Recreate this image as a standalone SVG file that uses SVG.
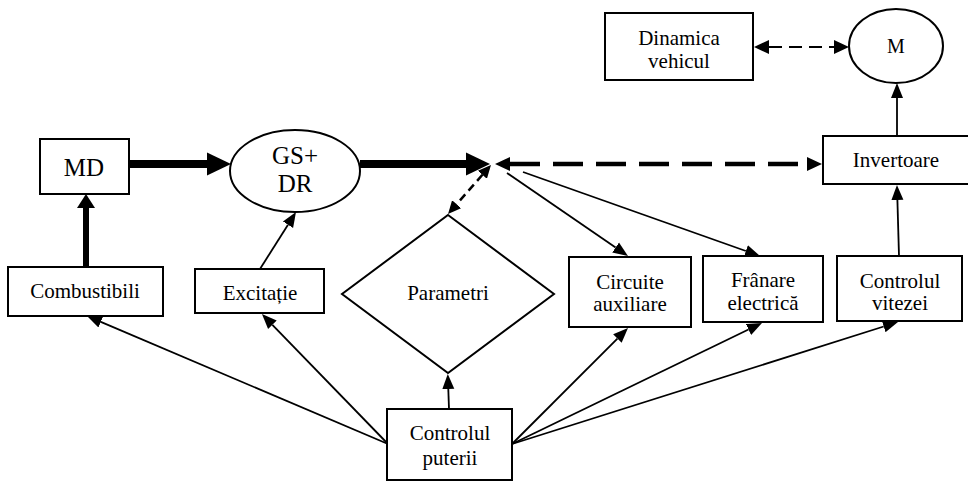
<svg xmlns="http://www.w3.org/2000/svg" width="968" height="482" viewBox="0 0 968 482">
<style>
.box{fill:#fff;stroke:#000;stroke-width:2}
text{font-family:'Liberation Serif','Tinos','Times New Roman','DejaVu Serif',serif;font-size:21px;fill:#000;text-anchor:middle}
.big{font-size:25px}
.c{fill:none;stroke:#000;stroke-width:1.8}
.thick{stroke-width:8}
.thickv{stroke-width:6}
.dthick{stroke-width:4.5;stroke-dasharray:30 13}
.dthin{stroke-width:2;stroke-dasharray:13 7}
.ddiag{stroke-width:2.5;stroke-dasharray:8 5}
</style>
<defs>
<marker id="a" markerUnits="userSpaceOnUse" markerWidth="16" markerHeight="14" refX="0" refY="6" orient="auto-start-reverse" viewBox="0 0 16 12"><path d="M0,0 L15,6 L0,12 z" fill="#000"/></marker>
<marker id="ad" markerUnits="userSpaceOnUse" markerWidth="16" markerHeight="14" refX="0" refY="7" orient="auto-start-reverse" viewBox="0 0 16 14"><path d="M0,0 L15,7 L0,14 z" fill="#000"/></marker>
<marker id="ag" markerUnits="userSpaceOnUse" markerWidth="13" markerHeight="12" refX="0" refY="6" orient="auto-start-reverse" viewBox="0 0 13 12"><path d="M0,0 L13,6 L0,12 z" fill="#000"/></marker>
<marker id="at" markerUnits="userSpaceOnUse" markerWidth="25" markerHeight="24" refX="0" refY="11.5" orient="auto" viewBox="0 0 25 23"><path d="M0,0 L24,11.5 L0,23 z" fill="#000"/></marker>
<marker id="av" markerUnits="userSpaceOnUse" markerWidth="15" markerHeight="19" refX="0" refY="9" orient="auto" viewBox="0 0 15 18"><path d="M0,0 L14,9 L0,18 z" fill="#000"/></marker>
</defs>

<g id="connectors">
<line class="c thick" x1="129" y1="164" x2="207" y2="164" marker-end="url(#at)"/>
<line class="c thick" x1="360" y1="164" x2="466" y2="164" marker-end="url(#at)"/>
<line class="c thickv" x1="86" y1="267" x2="86" y2="208" marker-end="url(#av)"/>
<line class="c" x1="260" y1="269" x2="288" y2="224.7" marker-end="url(#a)"/>
<line class="c dthick" x1="510" y1="164" x2="807" y2="164" marker-start="url(#ad)" marker-end="url(#ad)"/>
<line class="c ddiag" x1="482.4" y1="174.8" x2="456.6" y2="204.2" marker-start="url(#ag)" marker-end="url(#ag)"/>
<line class="c" x1="507" y1="173" x2="615.6" y2="247.5" marker-end="url(#a)"/>
<line class="c" x1="523" y1="172" x2="745.9" y2="251" marker-end="url(#a)"/>
<line class="c" x1="897" y1="136" x2="897" y2="98" marker-end="url(#a)"/>
<line class="c" x1="899" y1="256" x2="897.4" y2="200" marker-end="url(#a)"/>
<line class="c dthin" x1="769" y1="47" x2="834" y2="47" marker-start="url(#ad)" marker-end="url(#ad)"/>
<line class="c" x1="388" y1="444" x2="100.8" y2="321.9" marker-end="url(#a)"/>
<line class="c" x1="388" y1="444" x2="272.4" y2="324.8" marker-end="url(#a)"/>
<line class="c" x1="449" y1="409" x2="448.3" y2="389" marker-end="url(#a)"/>
<line class="c" x1="512" y1="444" x2="617.4" y2="338.6" marker-end="url(#a)"/>
<line class="c" x1="512" y1="444" x2="748.5" y2="329.5" marker-end="url(#a)"/>
<line class="c" x1="512" y1="444" x2="883.7" y2="326.5" marker-end="url(#a)"/>
</g>

<g id="md"><rect class="box" x="40" y="139" width="89" height="55"/><text class="big" x="84" y="176">MD</text></g>
<g id="gsdr"><ellipse class="box" cx="295" cy="171" rx="65" ry="41"/><text class="big" x="295" y="164">GS+</text><text class="big" x="295" y="192">DR</text></g>
<g id="combustibili"><rect class="box" x="8" y="267" width="155" height="49"/><text x="85" y="298">Combustibili</text></g>
<g id="excitatie"><rect class="box" x="195" y="269" width="129" height="44"/><text x="260" y="300">Excitație</text></g>
<g id="parametri"><polygon class="box" points="448,215 554,294 448,373 342,294"/><text x="448" y="300">Parametri</text></g>
<g id="circuite"><rect class="box" x="569" y="257" width="122" height="70"/><text x="630" y="289">Circuite</text><text x="630" y="311">auxiliare</text></g>
<g id="franare"><rect class="box" x="703" y="256" width="120" height="66"/><text x="763" y="287">Frânare</text><text x="763" y="310">electrică</text></g>
<g id="controlul-vitezei"><rect class="box" x="837" y="256" width="125" height="65"/><text x="900" y="288">Controlul</text><text x="900" y="310">vitezei</text></g>
<g id="invertoare"><rect class="box" x="823" y="136" width="150" height="48"/><text x="896" y="167">Invertoare</text></g>
<g id="dinamica"><rect class="box" x="605" y="13" width="148" height="67"/><text x="679" y="45">Dinamica</text><text x="679" y="68">vehicul</text></g>
<g id="m"><ellipse class="box" cx="896" cy="46" rx="47" ry="37"/><text style="font-size:20px" x="896" y="53">M</text></g>
<g id="controlul-puterii"><rect class="box" x="387" y="409" width="125" height="71"/><text x="450" y="440">Controlul</text><text x="450" y="465">puterii</text></g>
</svg>
